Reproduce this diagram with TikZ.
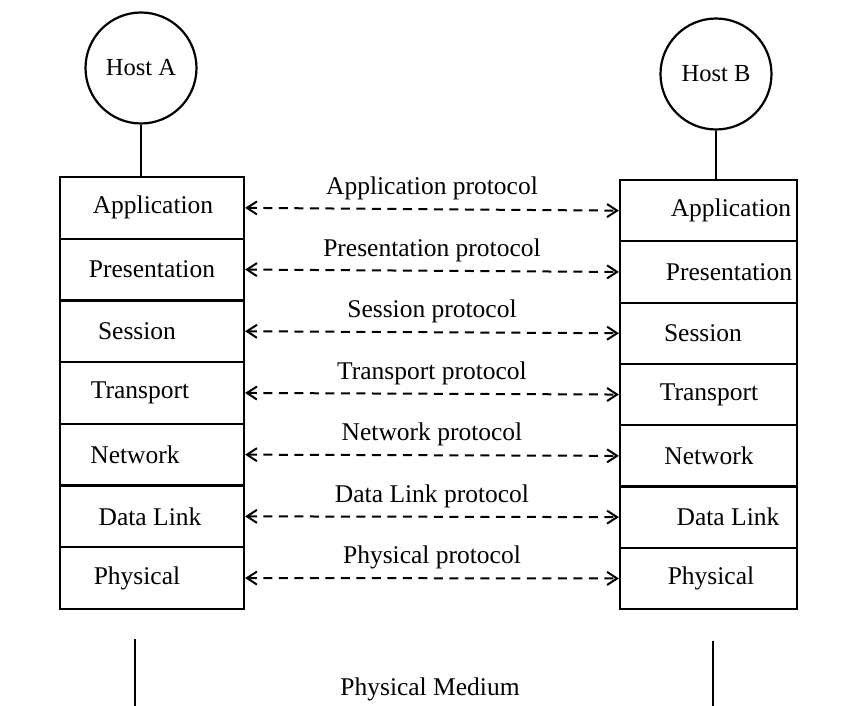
\documentclass[tikz,border=0pt]{standalone}
\usepackage{fontspec}
\setmainfont{Liberation Serif}
\usetikzlibrary{arrows.meta}
\begin{document}
\begin{tikzpicture}[x=1pt,y=-1pt,
  txt/.style={font=\fontsize{25.5}{30}\selectfont, inner sep=0pt},
  layerbox/.style={draw, line width=2.2pt, rectangle, inner sep=0pt, minimum height=#1},
  host/.style={draw, circle, line width=2.2pt, minimum size=111pt, inner sep=0pt, font=\fontsize{24.5}{28}\selectfont},
  barb/.tip={Straight Barb[length=10pt,width=13pt,line width=2pt]},
  peer/.style={line width=2pt, dash pattern=on 9pt off 6.5pt, barb-barb},
  wire/.style={line width=1.8pt}]
\useasboundingbox (0,0) rectangle (857,706);

% host circles
\node[host] (hA) at (141,68) {Host A};
\node[host] (hB) at (716,74) {Host B};

% left stack (Host A): rows of 61.7pt from y=177
\foreach \i/\t/\tx in {1/Application/153, 2/Presentation/152, 3/Session/137, 4/Transport/140,
                       5/Network/135, 6/Data Link/150, 7/Physical/137} {
  \node[layerbox=61.7pt, minimum width=184pt] (L\i) at (152,{177+61.7*(\i-0.5)}) {};
  \node[txt] (Lt\i) at (\tx,{177+61.7*(\i-0.5)}) {\t};
}
% right stack (Host B): rows of 61.3pt from y=180
\foreach \i/\t/\tx in {1/Application/731, 2/Presentation/729, 3/Session/703, 4/Transport/709,
                       5/Network/709, 6/Data Link/728, 7/Physical/711} {
  \node[layerbox=61.3pt, minimum width=177pt] (R\i) at (708.5,{180+61.3*(\i-0.5)}) {};
  \node[txt] (Rt\i) at (\tx,{180+61.3*(\i-0.5)}) {\t};
}

% host attachments
\draw[wire] (hA.south) -- (L1.north -| hA.south);
\draw[wire] (hB.south) -- (R1.north -| hB.south);

% peer protocols
\foreach \i/\p in {1/Application, 2/Presentation, 3/Session, 4/Transport,
                   5/Network, 6/Data Link, 7/Physical} {
  \draw[peer] (L\i.east) -- (R\i.west)
    node[txt, midway, above=8pt] (P\i) {\p\ protocol};
}

% physical medium
\coordinate (mA) at (135,706);
\coordinate (mB) at (713,706);
\draw[wire] (L7.south -| mA) ++(0,29) -- (mA);
\draw[wire] (R7.south -| mB) ++(0,31) -- (mB);
\node[txt] (med) at (430,689) {Physical Medium};
\end{tikzpicture}
\end{document}
